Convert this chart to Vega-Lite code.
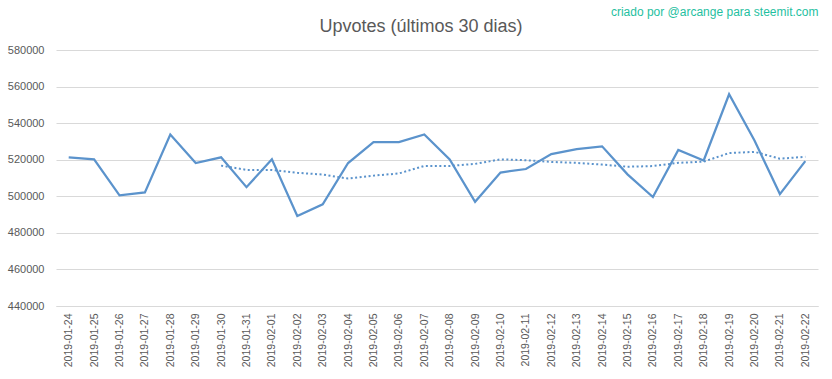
{
  "$schema": "https://vega.github.io/schema/vega-lite/v6.json",
  "width": 762,
  "height": 256,
  "autosize": {"type": "none"},
  "padding": {"left": 56, "top": 50, "right": 14, "bottom": 73},
  "background": "white",
  "title": {
    "text": "Upvotes (últimos 30 dias)",
    "anchor": "middle",
    "frame": "group",
    "dx": -16,
    "offset": -31,
    "font": "Liberation Sans",
    "fontSize": 18,
    "fontWeight": "normal",
    "color": "#595959"
  },
  "config": {
    "view": {"stroke": null},
    "axis": {
      "labelFont": "Liberation Sans",
      "labelFontSize": 10.5,
      "labelColor": "#595959",
      "gridColor": "#d9d9d9",
      "gridWidth": 1,
      "domainColor": "#d9d9d9",
      "ticks": false,
      "labelOverlap": false
    }
  },
  "resolve": {"axis": {"x": "independent"}},
  "data": {
    "values": [
      {"data": "2019-01-24", "upvotes": 521300, "media": null},
      {"data": "2019-01-25", "upvotes": 520200, "media": null},
      {"data": "2019-01-26", "upvotes": 500500, "media": null},
      {"data": "2019-01-27", "upvotes": 502100, "media": null},
      {"data": "2019-01-28", "upvotes": 533800, "media": null},
      {"data": "2019-01-29", "upvotes": 518200, "media": null},
      {"data": "2019-01-30", "upvotes": 521300, "media": 516771},
      {"data": "2019-01-31", "upvotes": 505000, "media": 514443},
      {"data": "2019-02-01", "upvotes": 520200, "media": 514443},
      {"data": "2019-02-02", "upvotes": 489200, "media": 512829},
      {"data": "2019-02-03", "upvotes": 495600, "media": 511900},
      {"data": "2019-02-04", "upvotes": 518200, "media": 509671},
      {"data": "2019-02-05", "upvotes": 529600, "media": 511300},
      {"data": "2019-02-06", "upvotes": 529600, "media": 512486},
      {"data": "2019-02-07", "upvotes": 533800, "media": 516600},
      {"data": "2019-02-08", "upvotes": 520200, "media": 516600},
      {"data": "2019-02-09", "upvotes": 497000, "media": 517714},
      {"data": "2019-02-10", "upvotes": 513000, "media": 520200},
      {"data": "2019-02-11", "upvotes": 514900, "media": 519729},
      {"data": "2019-02-12", "upvotes": 523100, "media": 518800},
      {"data": "2019-02-13", "upvotes": 525800, "media": 518257},
      {"data": "2019-02-14", "upvotes": 527300, "media": 517329},
      {"data": "2019-02-15", "upvotes": 512000, "media": 516157},
      {"data": "2019-02-16", "upvotes": 499600, "media": 516529},
      {"data": "2019-02-17", "upvotes": 525300, "media": 518286},
      {"data": "2019-02-18", "upvotes": 519600, "media": 518957},
      {"data": "2019-02-19", "upvotes": 555800, "media": 523629},
      {"data": "2019-02-20", "upvotes": 530500, "media": 524300},
      {"data": "2019-02-21", "upvotes": 501200, "media": 520571},
      {"data": "2019-02-22", "upvotes": 519200, "media": 521600}
    ]
  },
  "layer": [
    {
      "mark": {"type": "line", "color": "#5b93cc", "strokeWidth": 2.25},
      "encoding": {
        "x": {
          "field": "data",
          "type": "ordinal",
          "scale": {"type": "point", "padding": 0.5},
          "axis": {
            "orient": "bottom",
            "title": null,
            "labelAngle": -90,
            "labelAlign": "right",
            "labelBaseline": "middle",
            "labelPadding": 7,
            "grid": false,
            "domain": true
          }
        },
        "y": {
          "field": "upvotes",
          "type": "quantitative",
          "scale": {"domain": [440000, 580000], "nice": false, "zero": false},
          "axis": {
            "title": null,
            "values": [440000, 460000, 480000, 500000, 520000, 540000, 560000, 580000],
            "format": "d",
            "labelFontSize": 11,
            "labelPadding": 12,
            "labelOverlap": false,
            "domain": false,
            "grid": true
          }
        }
      }
    },
    {
      "mark": {"type": "line", "color": "#5b93cc", "strokeWidth": 2, "strokeDash": [2, 2.5]},
      "encoding": {
        "x": {
          "field": "data",
          "type": "ordinal",
          "axis": {
            "orient": "top",
            "title": "criado por @arcange para steemit.com",
            "titleAnchor": "end",
            "titleAlign": "right",
            "titleFont": "Liberation Sans",
            "titleFontSize": 12,
            "titleFontWeight": "normal",
            "titleColor": "#1fbf9f",
            "titleY": -32,
            "titleX": 762,
            "labels": false,
            "domain": false,
            "grid": false
          }
        },
        "y": {
          "field": "media",
          "type": "quantitative",
          "axis": {
            "title": null,
            "values": [440000, 460000, 480000, 500000, 520000, 540000, 560000, 580000],
            "format": "d",
            "labelFontSize": 11,
            "labelPadding": 12,
            "labelOverlap": false,
            "domain": false,
            "grid": true
          }
        }
      }
    }
  ]
}
